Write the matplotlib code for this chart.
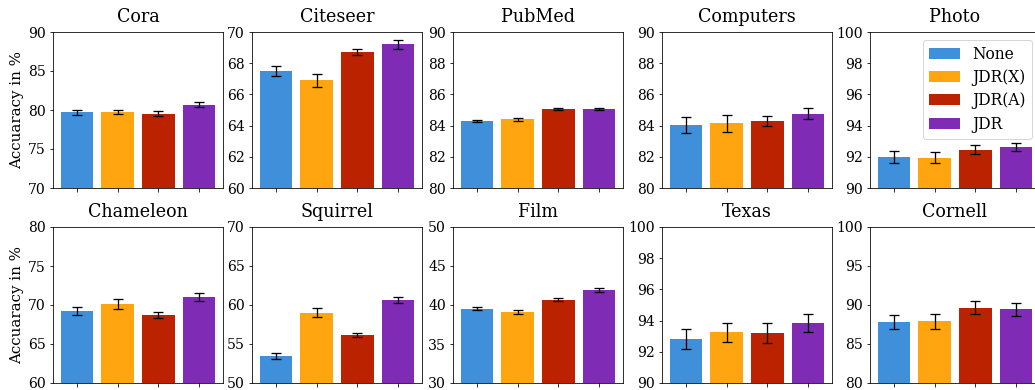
import matplotlib.pyplot as plt
import numpy as np

plt.rcParams["font.family"] = "DejaVu Serif"

DATASETS = ["Cora", "Citeseer", "PubMed", "Computers", "Photo",
            "Chameleon", "Squirrel", "Film", "Texas", "Cornell"]
METHODS = ["None", "JDR(X)", "JDR(A)", "JDR"]
COLORS = ["#3f8fda", "#ffa510", "#bb2200", "#7f2bb5"]

# mean accuracy per dataset, one entry per method
MEANS = [
    [79.7, 79.7, 79.55, 80.7],
    [67.5, 66.9, 68.7, 69.2],
    [84.3, 84.4, 85.05, 85.05],
    [84.05, 84.15, 84.3, 84.75],
    [92.0, 91.95, 92.45, 92.65],
    [69.2, 70.15, 68.75, 71.05],
    [53.45, 59.0, 56.15, 60.65],
    [39.5, 39.1, 40.65, 41.9],
    [92.8, 93.25, 93.2, 93.85],
    [87.8, 87.9, 89.65, 89.45],
]
STDS = [
    [0.3, 0.25, 0.3, 0.3],
    [0.35, 0.4, 0.2, 0.3],
    [0.08, 0.1, 0.07, 0.07],
    [0.5, 0.55, 0.3, 0.35],
    [0.4, 0.35, 0.3, 0.25],
    [0.5, 0.6, 0.4, 0.5],
    [0.35, 0.6, 0.3, 0.35],
    [0.2, 0.2, 0.2, 0.25],
    [0.65, 0.6, 0.65, 0.55],
    [0.9, 1.0, 0.8, 0.85],
]
YLIMS = [(70, 90), (60, 70), (80, 90), (80, 90), (90, 100),
         (60, 80), (50, 70), (30, 50), (90, 100), (80, 100)]
YSTEPS = [5, 2, 2, 2, 2, 5, 5, 5, 2, 5]

DPI = 72
W, H = 1035, 390
fig = plt.figure(figsize=(W / DPI, H / DPI), dpi=DPI)

# axes boxes in pixels; the last column runs slightly past the right edge
lefts = [53, 252, 453, 662, 870]
rows = [(32, 188), (227, 383)]
ax_w = 170

x = np.arange(len(METHODS))
for i, name in enumerate(DATASETS):
    r, c = divmod(i, 5)
    top, bottom = rows[r]
    ax = fig.add_axes([lefts[c] / W, 1 - bottom / H, ax_w / W, (bottom - top) / H])
    bars = ax.bar(x, MEANS[i], width=0.8, color=COLORS,
                  yerr=STDS[i], capsize=5,
                  error_kw={"elinewidth": 1.3, "capthick": 1.3, "ecolor": "black"})
    lo, hi = YLIMS[i]
    ax.set_ylim(lo, hi)
    ax.set_yticks(np.arange(lo, hi + 0.1, YSTEPS[i]))
    ax.set_xticks(x)
    ax.set_xticklabels([])
    ax.tick_params(axis="y", labelsize=14)
    ax.set_title(name, fontsize=17.5, pad=10)
    if c == 0:
        ax.set_ylabel("Accuaracy in %", fontsize=15)
    if i == 4:
        ax.legend(bars, METHODS, loc="upper right", fontsize=15.5,
                  labelspacing=0.4)

fig.savefig("out.png", dpi=DPI)
